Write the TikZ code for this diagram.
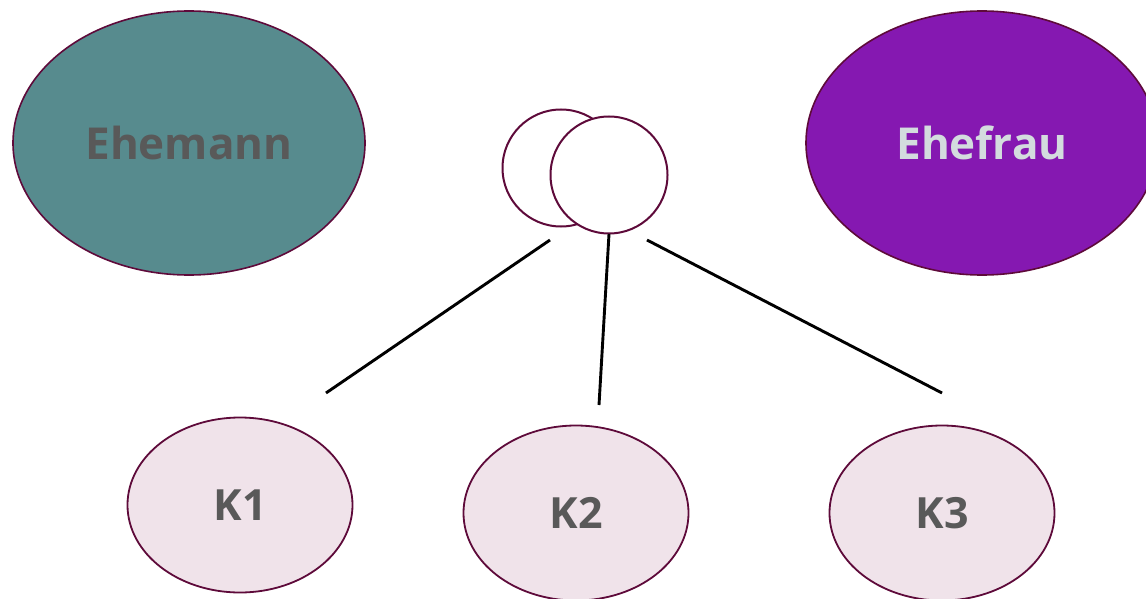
\documentclass[tikz,border=0pt]{standalone}
\usepackage{fontspec}
\setmainfont{Open Sans}
\usetikzlibrary{shapes.geometric}
\definecolor{rand}{HTML}{5E0A3A}
\definecolor{mannfill}{HTML}{578B8E}
\definecolor{fraufill}{HTML}{8518B1}
\definecolor{kindfill}{HTML}{F0E3EA}
\definecolor{schrift}{HTML}{595959}
\definecolor{hell}{HTML}{D3DCDE}
\begin{document}
\begin{tikzpicture}[x=1pt, y=-1pt,
		  person/.style={ellipse, draw=rand, line width=1.6pt, inner sep=0pt,
		    minimum width=352pt, minimum height=264pt,
		    font=\bfseries\fontsize{44}{44}\selectfont},
		  kind/.style={ellipse, draw=rand, line width=1.8pt, fill=kindfill, text=schrift, inner sep=0pt,
		    minimum width=225pt, minimum height=175pt,
		    font=\bfseries\fontsize{43}{43}\selectfont},
		  ring/.style={circle, draw=rand, line width=2pt, fill=white, inner sep=0pt, minimum size=117pt},
		  link/.style={black, line width=2.9pt}]
		  \useasboundingbox (0,0) rectangle (1146,599);
		  \clip (0,0) rectangle (1146,599);
		  \node[person, fill=mannfill, text=schrift] (mann) at (189,143) {Ehemann};
		  \node[person, fill=fraufill, text=hell] (frau) at (982,143) {Ehefrau};
		  \node[ring] (ehe1) at (561,168) {};
		  \node[ring] (ehe2) at (609,175) {};
		  \foreach \n/\x/\y in {1/240/505, 2/576/513, 3/942/513}{
		      \node[kind] (k\n) at (\x,\y) {K\n};
		  }
		  \coordinate (von1) at (550,240);
		  \coordinate (bis1) at (326,393);
		  \coordinate (von2) at (609,234);
		  \coordinate (bis2) at (599,405);
		  \coordinate (von3) at (647,240);
		  \coordinate (bis3) at (942,393);
		  \foreach \n in {1,2,3}{
		      \draw[link] (von\n) -- (bis\n);
		  }
	\end{tikzpicture}
\end{document}
